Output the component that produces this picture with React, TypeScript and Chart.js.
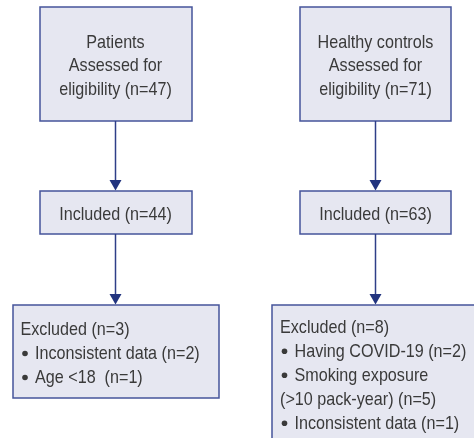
import React, { useEffect, useRef } from "react";
import { Chart, registerables } from "chart.js";

Chart.register(...registerables);

// ---- data ----
const groups = ["Patients", "Healthy controls"];
const assessedN = [47, 71];
const includedN = [44, 63];
const excludedN = [3, 8];
const patientExclusions = ["Inconsistent data (n=2)", "Age <18  (n=1)"];
const controlExclusions = ["Having COVID-19 (n=2)", "Smoking exposure|(>10 pack-year) (n=5)", "Inconsistent data (n=1)"];
const exclusions = [patientExclusions, controlExclusions];

// ---- layout (chart units == pixels) ----
const W = 474;
const H = 438;
const colCenter = [115.5, 375.5];
const topBox = [{ x0: 40, x1: 192 }, { x0: 300, x1: 451 }];
const topY = [7, 121];
const midY = [191, 234];
const botBox = [{ x0: 13, x1: 219, y0: 305, y1: 398 }, { x0: 272, x1: 490, y0: 305, y1: 450 }];
const botTextX = [20.5, 280];
const botFirstBaseline = [335, 332.8];
const LINE = 24;

const FILL = "#e6e7f1";
const STROKE = "#45549a";
const ARROW = "#2f3f88";
const HEAD = "#22347f";
const TEXT = "#3a3a3a";
const FONT = '19px "Liberation Sans", Arial, sans-serif';
const SX = 0.85;

function drawText(ctx: CanvasRenderingContext2D, s: string, x: number, y: number, align: CanvasTextAlign) {
  ctx.save();
  ctx.translate(x, y);
  ctx.scale(SX, 1);
  ctx.textAlign = align;
  ctx.textBaseline = "alphabetic";
  ctx.fillStyle = TEXT;
  ctx.font = FONT;
  ctx.fillText(s, 0, 0);
  ctx.restore();
}

const flowPlugin = {
  id: "flow",
  afterDraw(chart: any) {
    const ctx: CanvasRenderingContext2D = chart.ctx;
    const xs = chart.scales.x;
    const ys = chart.scales.y;
    const px = (v: number) => xs.getPixelForValue(v);
    const py = (v: number) => ys.getPixelForValue(v);

    const box = (x0: number, y0: number, x1: number, y1: number) => {
      const a = px(x0), b = px(x1), c = py(y0), d = py(y1);
      ctx.save();
      ctx.fillStyle = FILL;
      ctx.fillRect(a, c, b - a, d - c);
      ctx.strokeStyle = STROKE;
      ctx.lineWidth = 1.5;
      ctx.strokeRect(a, c, b - a, d - c);
      ctx.restore();
    };

    const arrow = (x: number, y0: number, y1: number) => {
      const X = px(x), A = py(y0), B = py(y1);
      ctx.save();
      ctx.strokeStyle = ARROW;
      ctx.lineWidth = 1.5;
      ctx.beginPath();
      ctx.moveTo(X, A);
      ctx.lineTo(X, B - 9);
      ctx.stroke();
      ctx.fillStyle = HEAD;
      ctx.beginPath();
      ctx.moveTo(X - 6, B - 11);
      ctx.lineTo(X + 6, B - 11);
      ctx.lineTo(X, B - 0.5);
      ctx.closePath();
      ctx.fill();
      ctx.restore();
    };

    groups.forEach((g, i) => {
      const cx = colCenter[i];
      box(topBox[i].x0, topY[0], topBox[i].x1, topY[1]);
      const topLines = [g, "Assessed for", `eligibility (n=${assessedN[i]})`];
      topLines.forEach((s, k) => drawText(ctx, s, px(cx), py(47.5 + k * 23.5), "center"));
      arrow(cx, topY[1], midY[0]);
      box(topBox[i].x0, midY[0], topBox[i].x1, midY[1]);
      drawText(ctx, `Included (n=${includedN[i]})`, px(cx), py(219.5), "center");
      arrow(cx, midY[1], botBox[i].y0);
      const bb = botBox[i];
      box(bb.x0, bb.y0, bb.x1, bb.y1);
      let y = botFirstBaseline[i];
      drawText(ctx, `Excluded (n=${excludedN[i]})`, px(botTextX[i]), py(y), "left");
      exclusions[i].forEach((item) => {
        const parts = item.split("|");
        y += LINE;
        ctx.save();
        ctx.fillStyle = TEXT;
        ctx.beginPath();
        ctx.arc(px(botTextX[i] + 4.5), py(y - 5.5), 2.8, 0, Math.PI * 2);
        ctx.fill();
        ctx.restore();
        drawText(ctx, parts[0], px(botTextX[i] + 14.5), py(y), "left");
        for (let p = 1; p < parts.length; p++) {
          y += LINE;
          drawText(ctx, parts[p], px(botTextX[i]), py(y), "left");
        }
      });
    });
  },
};

export default function App() {
  const ref = useRef<HTMLCanvasElement | null>(null);
  useEffect(() => {
    document.body.style.margin = "0";
    const canvas = ref.current;
    if (!canvas) return;
    const chart = new Chart(canvas, {
      type: "scatter",
      data: { datasets: [{ data: [] }] },
      options: {
        animation: false,
        responsive: false,
        devicePixelRatio: 1,
        layout: { padding: 0 },
        plugins: { legend: { display: false }, tooltip: { enabled: false } },
        scales: {
          x: { type: "linear", min: 0, max: W, display: false },
          y: { type: "linear", min: 0, max: H, reverse: true, display: false },
        },
      },
      plugins: [flowPlugin],
    });
    return () => chart.destroy();
  }, []);
  return (
    <div style={{ width: W, height: H, background: "#fff" }}>
      <canvas ref={ref} width={W} height={H} />
    </div>
  );
}
